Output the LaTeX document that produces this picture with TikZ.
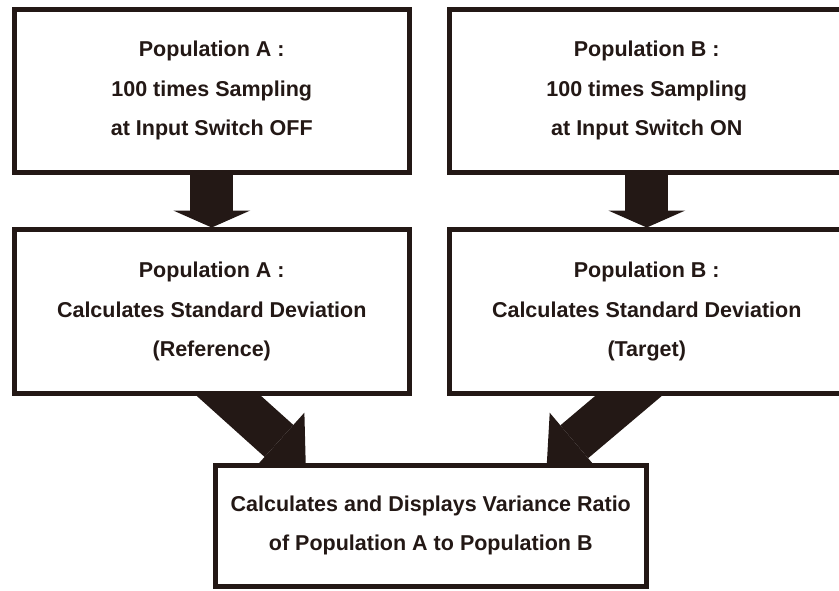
\documentclass[tikz,border=0pt]{standalone}
\usepackage{fontspec}
\setmainfont{Liberation Sans}
\usepackage{tikz}
\usetikzlibrary{arrows.meta,calc,positioning,backgrounds}
\definecolor{inkblack}{RGB}{35,24,21}

\begin{document}
\begin{tikzpicture}[
    x=1pt, y=-1pt,
    font=\fontsize{21.5pt}{39.5pt}\selectfont\bfseries,
    box/.style={draw=inkblack, line width=5pt, fill=white, text=inkblack, align=center, inner sep=0pt, outer sep=0pt},
    sampling/.style={box, minimum width=394.5pt, minimum height=163.3pt},
    deviation/.style={box, minimum width=394.5pt, minimum height=164pt},
    result/.style={box, minimum width=431.2pt, minimum height=121pt},
    dropline/.style={draw=inkblack, line width=43pt, -{Triangle[length=17pt, width=77pt, line width=0pt]}},
    slantline/.style={draw=inkblack, line width=43pt, shorten <=-20pt, -{Triangle[length=36pt, width=76pt, line width=0pt]}}
]
\useasboundingbox (0,0) rectangle (839,590);

\node[sampling] (popA) at (211.75,90.85) {Population A :\\100 times Sampling\\at Input Switch OFF};
\node[sampling, right=40.5pt of popA] (popB) {Population B :\\100 times Sampling\\at Input Switch ON};
\node[deviation, below=57pt of popA] (devA) {Population A :\\Calculates Standard Deviation\\(Reference)};
\node[deviation, right=40.5pt of devA] (devB) {Population B :\\Calculates Standard Deviation\\(Target)};
\coordinate (split) at ($(devA.south)!0.5!(devB.south)$);
\node[result, below=71.5pt of split, xshift=1.5pt] (ratio) {Calculates and Displays Variance Ratio\\of Population A to Population B};

% fat arrows go under the boxes
\begin{scope}[on background layer]
\draw[dropline] (popA.south) -- ([yshift=2pt]devA.north);
\draw[dropline] (popB.south) -- ([yshift=2pt]devB.north);
\draw[slantline] ([yshift=13pt]devA.south) -- ([xshift=-125pt]ratio.north);
\draw[slantline] ([yshift=13pt]devB.south) -- ([xshift=116pt]ratio.north);
\end{scope}
\end{tikzpicture}
\end{document}
